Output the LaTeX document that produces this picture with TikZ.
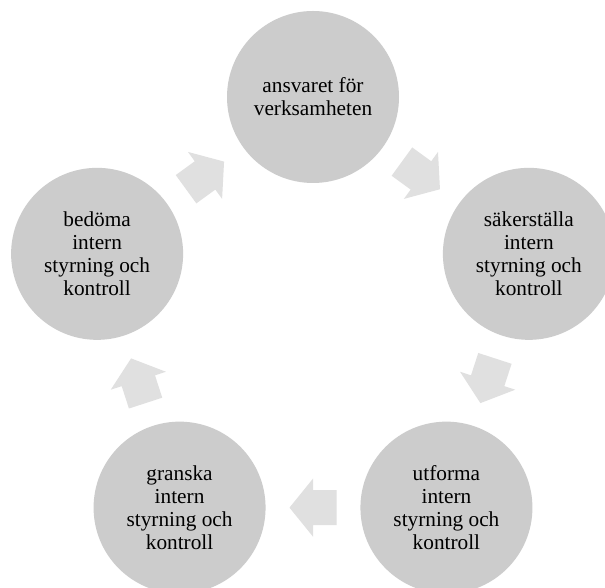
\documentclass[tikz,border=0pt]{standalone}
\usepackage{fontspec}
\setmainfont{Liberation Serif}
\usetikzlibrary{calc}
\definecolor{circfill}{HTML}{CCCCCC}
\definecolor{arrfill}{HTML}{E0E0E0}
\tikzset{
  stage/.style={circle, fill=circfill, minimum size=172pt, inner sep=0pt, align=center,
    font=\fontsize{21.3}{23}\selectfont, text=black},
  blockarr/.style={fill=arrfill, draw=none}
}
\begin{document}
\begin{tikzpicture}[x=1pt,y=1pt]
\useasboundingbox (0,0) rectangle (605,588);
\clip (0,0) rectangle (605,588);
\fill[white] (0,0) rectangle (605,588);
\coordinate (c) at (313,264);
\node[stage] (top) at ($(c)+(90:227)$) {ansvaret för\\verksamheten};
\node[stage] (right) at ($(c)+(18:227)$) {säkerställa\\intern\\styrning och\\kontroll};
\node[stage] (bright) at ($(c)+(-54:227)$) {utforma\\intern\\styrning och\\kontroll};
\node[stage] (bleft) at ($(c)+(-126:227)$) {granska\\intern\\styrning och\\kontroll};
\node[stage] (left) at ($(c)+(162:227)$) {bedöma\\intern\\styrning och\\kontroll};
\foreach \a/\b/\ang in {top/right/-36, right/bright/-108, bright/bleft/180, bleft/left/108, left/top/36}{
  \fill[blockarr, shift={($(\a.center)!0.5!(\b.center)$)}, rotate=\ang]
    (-23.5,-17.5) -- (0,-17.5) -- (0,-29) -- (23.5,0) -- (0,29) -- (0,17.5) -- (-23.5,17.5) -- cycle;
}
\end{tikzpicture}
\end{document}
